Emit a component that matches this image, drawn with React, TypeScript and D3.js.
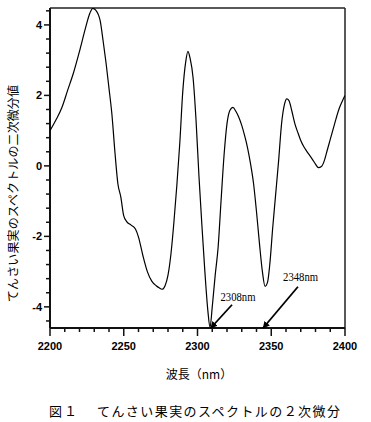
import React from "react";
import * as d3 from "d3";

// Wavelength (nm) and second-derivative values
const wavelengths = [
  2200, 2204, 2208, 2212, 2216, 2220, 2224, 2227, 2229, 2231, 2234, 2236, 2238,
  2240, 2242, 2244, 2246, 2248, 2250, 2252, 2255, 2258, 2260, 2263, 2266, 2269,
  2272, 2274, 2276, 2278, 2280, 2282, 2284, 2286, 2288, 2290, 2292, 2293.5, 2295,
  2297, 2299, 2301, 2303, 2305, 2307, 2308.5, 2310, 2312, 2314, 2316, 2318, 2320,
  2322, 2324, 2326, 2328, 2330, 2332, 2334, 2336, 2338, 2340, 2342, 2344, 2345.8,
  2347.5, 2349, 2351, 2353, 2355, 2357, 2359, 2360.5, 2362, 2364, 2366, 2368,
  2370, 2372, 2374, 2376, 2378, 2380, 2382, 2384, 2386, 2388, 2390, 2392, 2394,
  2396, 2398, 2400,
];
const values = [
  1.0, 1.3, 1.65, 2.15, 2.65, 3.25, 3.9, 4.33, 4.47, 4.42, 4.12, 3.55, 2.92,
  2.2, 1.45, 0.4, -0.5, -0.88, -1.42, -1.58, -1.68, -1.8, -2.02, -2.55, -3.0, -3.27,
  -3.4, -3.46, -3.5, -3.4, -3.1, -2.5, -1.6, -0.55, 0.65, 2.1, 2.95, 3.25, 3.05,
  2.5, 1.3, -0.3, -1.7, -3.0, -4.1, -4.58, -4.0, -3.1, -2.3, -0.97, 0.3, 1.2,
  1.58, 1.66, 1.55, 1.38, 1.15, 0.85, 0.5, 0.05, -0.5, -1.3, -2.2, -3.0, -3.42,
  -3.3, -2.8, -1.75, -0.8, 0.15, 1.2, 1.75, 1.9, 1.85, 1.55, 1.2, 0.95,
  0.72, 0.55, 0.42, 0.3, 0.18, 0.05, -0.05, -0.02, 0.15, 0.45, 0.75, 1.05, 1.35,
  1.62, 1.82, 2.0,
];

const xMajorTicks = [2200, 2250, 2300, 2350, 2400];
const yMajorTicks = [-4, -2, 0, 2, 4];

const annoLabels = ["2308nm", "2348nm"];
const annoTipX = [2309, 2344.5];
const annoTailX = [2323.4, 2368.1];
const annoTailY = [-3.94, -3.43];
const annoTextX = [2315.6, 2358];
const annoTextY = [-3.73, -3.15];

const yTitle = "てんさい果実のスペクトルの二次微分値";
const xTitle = "波長（nm）";
const captionFig = "図１";
const captionText = "てんさい果実のスペクトルの２次微分";

export default function App() {
  const W = 371;
  const H = 422;
  const left = 50, right = 345, top = 8, bottom = 328;
  const x = d3.scaleLinear().domain([2200, 2400]).range([left, right]);
  const y = d3.scaleLinear().domain([-4.6, 4.48]).range([bottom, top]);

  const data = wavelengths.map((w, i) => [w, values[i]] as [number, number]);
  const line = d3
    .line<[number, number]>()
    .x((d) => x(d[0]))
    .y((d) => y(d[1]))
    .curve(d3.curveMonotoneX);

  const xMinor = d3.range(2200, 2401, 10).filter((v) => !xMajorTicks.includes(v));
  const yMinor = d3
    .range(-44, 45, 4)
    .map((v) => v / 10)
    .filter((v) => !yMajorTicks.some((m) => Math.abs(m - v) < 1e-6));

  const sans = "'Liberation Sans', Arial, sans-serif";
  const jp = "'Noto Sans CJK JP', sans-serif";

  return (
    <svg
      width={W}
      height={H}
      style={{ position: "absolute", left: 0, top: 0, background: "#fff" }}
    >
      <defs>
        <clipPath id="plotClip">
          <rect x={left} y={top} width={right - left} height={bottom - top} />
        </clipPath>
        <marker
          id="arrowHead"
          viewBox="0 0 10 10"
          refX="9"
          refY="5"
          markerWidth="7"
          markerHeight="7"
          markerUnits="userSpaceOnUse"
          orient="auto"
        >
          <path d="M0,0 L10,5 L0,10 z" fill="#000" />
        </marker>
      </defs>
      <rect x={0} y={0} width={W} height={H} fill="#fff" />

      {/* frame */}
      <line x1={left} x2={right} y1={top} y2={top} stroke="#222" strokeWidth={1.5} />
      <line x1={right} x2={right} y1={top} y2={bottom} stroke="#222" strokeWidth={1.5} />
      <line x1={left} x2={left} y1={top} y2={bottom} stroke="#111" strokeWidth={2} />
      <line x1={left} x2={right} y1={bottom} y2={bottom} stroke="#111" strokeWidth={2} />

      {/* y ticks */}
      {yMajorTicks.map((t) => (
        <g key={"ym" + t}>
          <line x1={left - 6} x2={left} y1={y(t)} y2={y(t)} stroke="#111" strokeWidth={1.5} />
          <text
            x={left - 8}
            y={y(t)}
            textAnchor="end"
            dominantBaseline="central"
            fontFamily={sans}
            fontWeight="bold"
            fontSize={11}
          >
            {t}
          </text>
        </g>
      ))}
      {yMinor.map((t) => (
        <line key={"yn" + t} x1={left - 4} x2={left} y1={y(t)} y2={y(t)} stroke="#111" strokeWidth={1.5} />
      ))}

      {/* x ticks */}
      {xMajorTicks.map((t) => (
        <g key={"xm" + t}>
          <line x1={x(t)} x2={x(t)} y1={bottom} y2={bottom + 8} stroke="#111" strokeWidth={1.5} />
          <text
            x={x(t)}
            y={346}
            textAnchor="middle"
            dominantBaseline="central"
            fontFamily={sans}
            fontWeight="bold"
            fontSize={11}
          >
            {t}
          </text>
        </g>
      ))}
      {xMinor.map((t) => (
        <line key={"xn" + t} x1={x(t)} x2={x(t)} y1={bottom} y2={bottom + 4} stroke="#111" strokeWidth={1.5} />
      ))}

      {/* curve */}
      <path
        d={line(data) || ""}
        fill="none"
        stroke="#000"
        strokeWidth={1.2}
        clipPath="url(#plotClip)"
      />

      {/* annotations */}
      {annoLabels.map((lab, i) => (
        <g key={lab}>
          <line
            x1={x(annoTailX[i])}
            y1={y(annoTailY[i])}
            x2={x(annoTipX[i])}
            y2={y(-4.6)}
            stroke="#000"
            strokeWidth={1.8}
            markerEnd="url(#arrowHead)"
          />
          <text
            x={x(annoTextX[i])}
            y={y(annoTextY[i])}
            dominantBaseline="central"
            fontFamily="'Liberation Serif', serif"
            fontSize={12.5}
            textLength={35}
            lengthAdjust="spacingAndGlyphs"
          >
            {lab}
          </text>
        </g>
      ))}

      {/* y title */}
      <text
        transform={`translate(12, ${193.5}) rotate(-90)`}
        textAnchor="middle"
        dominantBaseline="central"
        fontFamily={jp}
        fontSize={12}
        textLength={217}
        lengthAdjust="spacing"
      >
        {yTitle}
      </text>

      {/* x title */}
      <text
        x={199}
        y={373}
        textAnchor="middle"
        dominantBaseline="central"
        fontFamily={jp}
        fontSize={12}
      >
        {xTitle}
      </text>

      {/* caption */}
      <text
        x={49}
        y={410}
        dominantBaseline="central"
        fontFamily={jp}
        fontSize={13}
        textLength={28}
        lengthAdjust="spacing"
      >
        {captionFig}
      </text>
      <text
        x={97}
        y={410}
        dominantBaseline="central"
        fontFamily={jp}
        fontSize={13}
        textLength={243}
        lengthAdjust="spacing"
      >
        {captionText}
      </text>
    </svg>
  );
}
